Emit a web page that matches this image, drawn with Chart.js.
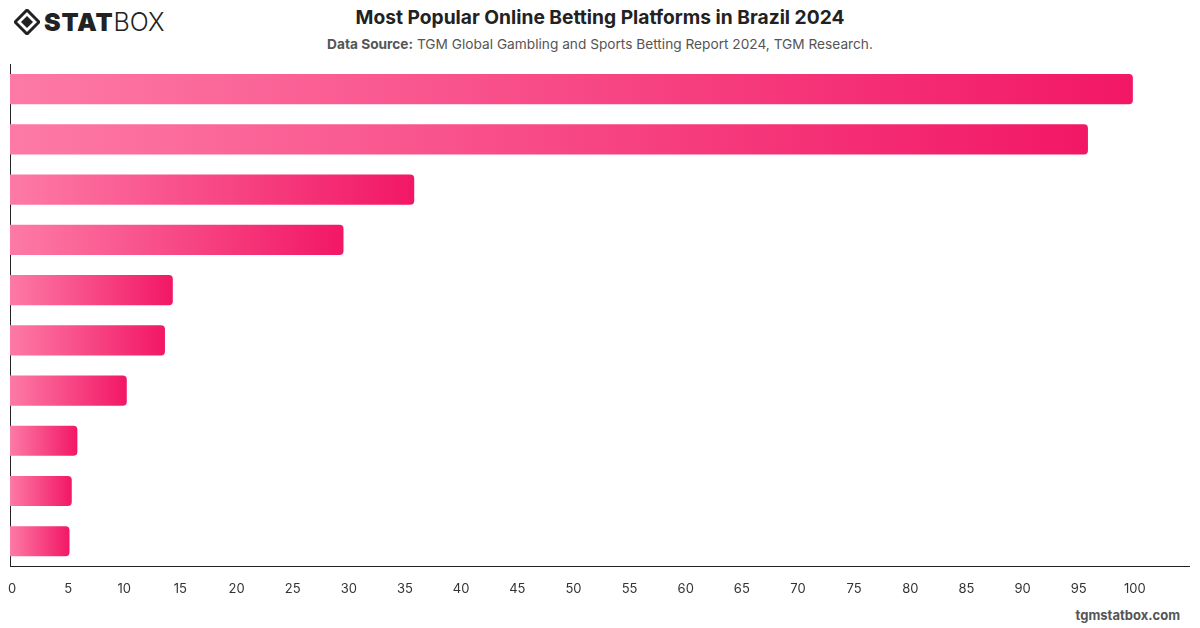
<!DOCTYPE html>
<html>
<head>
<meta charset="utf-8">
<script src="https://cdn.jsdelivr.net/npm/chart.js@4"></script>
<style>
  html, body { margin: 0; padding: 0; background: #fff; }
  body { width: 1200px; height: 628px; position: relative; overflow: hidden; font-family: Inter, "Noto Sans", sans-serif; }
  #logo { position: absolute; left: 14px; top: 7px; display: flex; align-items: center; }
  #logo .stat { font-weight: 900; font-size: 25px; color: #222; letter-spacing: 0.8px; margin-left: 4px; }
  #logo .box { font-weight: 300; font-size: 25px; color: #222; }
  #title { position: absolute; top: 5px; left: 0; width: 1200px; text-align: center; font-weight: 700; font-size: 19.2px; color: #222; }
  #subtitle { position: absolute; top: 36px; left: 0; width: 1200px; text-align: center; font-size: 13.7px; color: #555; }
  #subtitle b { color: #555; }
  #footer { position: absolute; right: 20px; top: 607px; font-weight: 700; font-size: 13px; color: #555; }
  #wrap { position: absolute; left: 0; top: 0; width: 1200px; height: 628px; }
</style>
</head>
<body>
<div id="logo">
  <svg width="26" height="26" viewBox="0 0 26 26">
    <path d="M13 1 L25 13 L13 25 L1 13 Z" fill="none" stroke="#222" stroke-width="3"/>
    <path d="M13 7 L19 13 L13 19 L7 13 Z" fill="#222"/>
  </svg>
  <span class="stat">STAT</span><span class="box">BOX</span>
</div>
<div id="title">Most Popular Online Betting Platforms in Brazil 2024</div>
<div id="subtitle"><b>Data Source:</b> TGM Global Gambling and Sports Betting Report 2024, TGM Research.</div>
<div id="footer">tgmstatbox.com</div>
<div id="wrap"><canvas id="chart"></canvas></div>
<script>
// Platforms (labels are not shown on the chart)
const platforms = ['Platform 1', 'Platform 2', 'Platform 3', 'Platform 4', 'Platform 5',
                   'Platform 6', 'Platform 7', 'Platform 8', 'Platform 9', 'Platform 10'];
const shares = [100, 96, 36, 29.7, 14.5, 13.8, 10.4, 6, 5.5, 5.3];
const xTicks = [0, 5, 10, 15, 20, 25, 30, 35, 40, 45, 50, 55, 60, 65, 70, 75, 80, 85, 90, 95, 100];

function barGradient(context) {
    const chart = context.chart;
    if (!chart.chartArea || context.raw === undefined) return '#f3286b';
    const xs = chart.scales.x;
    const x0 = xs.getPixelForValue(0);
    const x1 = xs.getPixelForValue(context.raw);
    const g = chart.ctx.createLinearGradient(x0, 0, x1, 0);
    g.addColorStop(0, '#fd7aa6');
    g.addColorStop(1, '#f21765');
    return g;
}

new Chart(document.getElementById('chart'), {
    type: 'bar',
    data: {
        labels: platforms,
        datasets: [{
            data: shares,
            backgroundColor: barGradient,
            borderRadius: 4,
            borderSkipped: 'start',
            barPercentage: 0.6,
            categoryPercentage: 1
        }]
    },
    options: {
        indexAxis: 'y',
        responsive: true,
        maintainAspectRatio: false,
        animation: false,
        layout: { padding: { top: 64, left: 10, right: 11, bottom: 16 } },
        plugins: { legend: { display: false }, tooltip: { enabled: false } },
        scales: {
            x: {
                min: 0,
                max: 105,
                grid: { display: false, drawTicks: false },
                border: { display: true, color: '#222', width: 1 },
                ticks: {
                    stepSize: 5,
                    padding: 15,
                    labelOffset: 2,
                    color: '#333',
                    font: { family: 'Inter', size: 13 },
                    callback: v => xTicks.includes(v) ? v : ''
                },
                afterFit: s => { s.paddingLeft = 0; s.paddingRight = 0; }
            },
            y: {
                grid: { display: false, drawTicks: false },
                border: { display: true, color: '#222', width: 1 },
                ticks: { display: false },
                afterFit: s => { s.width = 0; }
            }
        }
    }
});
</script>
</body>
</html>
